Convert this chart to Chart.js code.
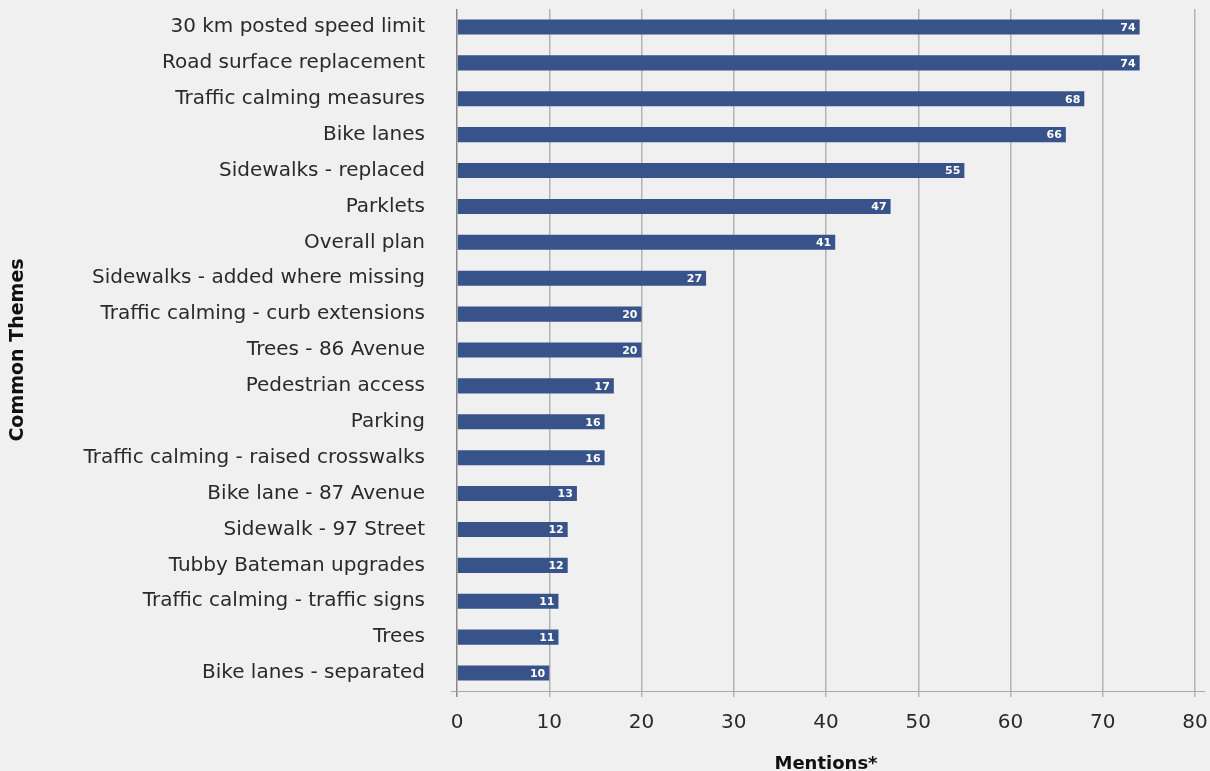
<!DOCTYPE html>
<html>
<head>
<meta charset="utf-8">
<script src="https://cdn.jsdelivr.net/npm/chart.js@4/dist/chart.umd.min.js"></script>
<style>
  html, body { margin: 0; padding: 0; background: #f0f0f0; }
  #wrap { width: 1210px; height: 771px; }
</style>
</head>
<body>
<div id="wrap"><canvas id="chart"></canvas></div>
<script>
const themes = [
    "30 km posted speed limit",
    "Road surface replacement",
    "Traffic calming measures",
    "Bike lanes",
    "Sidewalks - replaced",
    "Parklets",
    "Overall plan",
    "Sidewalks - added where missing",
    "Traffic calming - curb extensions",
    "Trees - 86 Avenue",
    "Pedestrian access",
    "Parking",
    "Traffic calming - raised crosswalks",
    "Bike lane - 87 Avenue",
    "Sidewalk - 97 Street",
    "Tubby Bateman upgrades",
    "Traffic calming - traffic signs",
    "Trees",
    "Bike lanes - separated"
]
const mentions = [74, 74, 68, 66, 55, 47, 41, 27, 20, 20, 17, 16, 16, 13, 12, 12, 11, 11, 10]
const xTicks = [0, 10, 20, 30, 40, 50, 60, 70, 80]

const fontFamily = "'DejaVu Sans', 'Open Sans', sans-serif"
const barColor = "#37538a"

// white value labels drawn inside the end of each bar
const valueLabels = {
    id: "valueLabels",
    afterDatasetsDraw(chart) {
        const ctx = chart.ctx
        const meta = chart.getDatasetMeta(0)
        ctx.save()
        ctx.fillStyle = "#ffffff"
        ctx.font = "bold 11px " + fontFamily
        ctx.textAlign = "right"
        ctx.textBaseline = "middle"
        meta.data.forEach((bar, i) => {
            ctx.fillText(String(mentions[i]), bar.x - 4, bar.y + 1)
        })
        ctx.restore()
    }
}

// x axis baseline that runs a little past the plot on both sides
const axisLine = {
    id: "axisLine",
    afterDraw(chart) {
        const { ctx, chartArea } = chart
        ctx.save()
        ctx.strokeStyle = "#a8a8a8"
        ctx.lineWidth = 1
        ctx.beginPath()
        ctx.moveTo(chartArea.left - 6, chartArea.bottom + 0.5)
        ctx.lineTo(chartArea.right + 10, chartArea.bottom + 0.5)
        ctx.stroke()
        ctx.restore()
    }
}

new Chart(document.getElementById("chart"), {
    type: "bar",
    data: {
        labels: themes,
        datasets: [
            {
                label: "Mentions",
                data: mentions,
                backgroundColor: barColor,
                barPercentage: 0.84,
                categoryPercentage: 0.5
            }
        ]
    },
    options: {
        indexAxis: "y",
        responsive: true,
        maintainAspectRatio: false,
        animation: false,
        layout: { padding: { top: 9, right: 15, left: 0, bottom: 0 } },
        plugins: {
            legend: { display: false },
            tooltip: { enabled: false }
        },
        scales: {
            x: {
                min: 0,
                max: 80,
                afterBuildTicks: scale => {
                    scale.ticks = xTicks.map(v => ({ value: v }))
                },
                afterFit: scale => {
                    scale.height = 80
                    scale.paddingLeft = 0
                    scale.paddingRight = 0
                },
                grid: {
                    color: ctx => ctx.tick && ctx.tick.value === 0 ? "#888888" : "#b4b4b4",
                    lineWidth: 1.5,
                    drawTicks: true,
                    tickLength: 6
                },
                border: { display: false },
                ticks: {
                    color: "#2a2a2a",
                    padding: 14,
                    font: { family: fontFamily, size: 20 }
                },
                title: {
                    display: true,
                    text: "Mentions*",
                    color: "#111111",
                    padding: { top: 0, bottom: -2 },
                    font: { family: fontFamily, size: 18, weight: "bold", lineHeight: 1 }
                }
            },
            y: {
                afterFit: scale => {
                    scale.width = 457
                    scale.paddingTop = 0
                    scale.paddingBottom = 0
                },
                grid: { display: false, drawTicks: false },
                border: { display: false },
                ticks: {
                    color: "#2a2a2a",
                    padding: 32,
                    font: { family: fontFamily, size: 20 }
                },
                title: {
                    display: true,
                    text: "Common Themes",
                    color: "#111111",
                    padding: { top: 9, bottom: 0 },
                    font: { family: fontFamily, size: 19, weight: "bold", lineHeight: 1 }
                }
            }
        }
    },
    plugins: [valueLabels, axisLine]
})
</script>
</body>
</html>
